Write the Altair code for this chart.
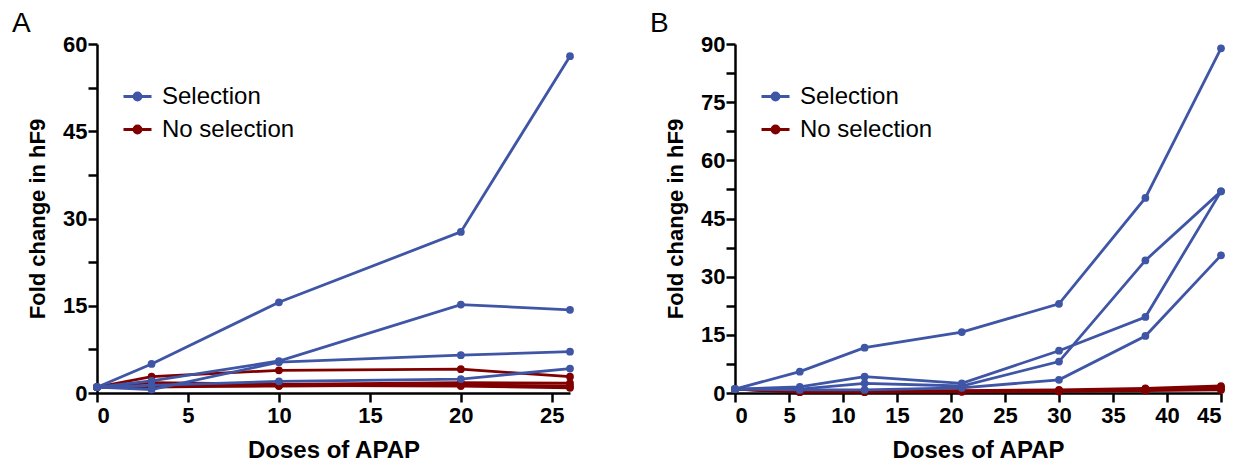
import altair as alt
import pandas as pd

BLUE = "#3F55A6"
RED = "#800000"
FONT = "Liberation Sans"

# ---------- Panel A data ----------
a_doses = [0, 3, 10, 20, 26]
a_sel_1 = [1.0, 5.0, 15.6, 27.7, 57.9]
a_sel_2 = [1.0, 2.1, 5.5, 15.2, 14.3]
a_sel_3 = [1.0, 0.6, 5.3, 6.5, 7.1]
a_sel_4 = [1.0, 1.3, 2.0, 2.4, 4.2]
a_nosel_1 = [1.0, 2.8, 3.9, 4.1, 2.8]
a_nosel_2 = [1.0, 1.8, 1.5, 1.8, 1.7]
a_nosel_3 = [1.0, 1.2, 1.2, 1.4, 1.2]
a_nosel_4 = [1.0, 1.0, 1.3, 1.2, 0.9]

# ---------- Panel B data ----------
b_doses = [0, 6, 12, 21, 30, 38, 45]
b_sel_1 = [1.0, 5.5, 11.7, 15.7, 23.0, 50.3, 88.9]
b_sel_2 = [1.0, 1.0, 2.5, 1.8, 8.1, 34.2, 52.0]
b_sel_3 = [1.0, 1.6, 4.2, 2.5, 10.9, 19.6, 52.0]
b_sel_4 = [1.0, 0.8, 0.8, 1.3, 3.4, 14.7, 35.5]
b_nosel_1 = [1.0, 0.4, 0.5, 0.6, 0.8, 1.2, 1.8]
b_nosel_2 = [1.0, 0.3, 0.4, 0.4, 0.6, 0.9, 1.4]
b_nosel_3 = [1.0, 0.5, 0.6, 0.5, 0.5, 0.8, 1.1]
b_nosel_4 = [1.0, 0.2, 0.2, 0.3, 0.4, 0.6, 0.8]

groups = ["Selection", "No selection"]
a_x_ticks = [0, 5, 10, 15, 20, 25]
b_x_ticks = [0, 5, 10, 15, 20, 25, 30, 35, 40, 45]
a_y_ticks = [0, 7.5, 15, 22.5, 30, 37.5, 45, 52.5, 60]
b_y_ticks = [0, 7.5, 15, 22.5, 30, 37.5, 45, 52.5, 60, 67.5, 75, 82.5, 90]


def build_df(doses, sel, nosel):
    rows = []
    for i, s in enumerate(sel):
        for d, v in zip(doses, s):
            rows.append({"dose": d, "fold": v, "group": "Selection", "series": f"s{i}"})
    for i, s in enumerate(nosel):
        for d, v in zip(doses, s):
            rows.append({"dose": d, "fold": v, "group": "No selection", "series": f"n{i}"})
    return pd.DataFrame(rows)


SYMBOL = "M-1,0H1M-0.25,0A0.25,0.25,0,1,1,0.25,0A0.25,0.25,0,1,1,-0.25,0Z"


def panel(df, xmax, xticks, ymax, yticks, width, letter):
    color = alt.Color(
        "group:N",
        scale=alt.Scale(domain=groups, range=[BLUE, RED]),
        legend=alt.Legend(
            title=None,
            orient="none",
            legendX=25,
            legendY=37,
            symbolType=SYMBOL,
            symbolSize=784,
            symbolStrokeWidth=2.8,
            labelFont=FONT,
            labelFontSize=24,
            labelColor="black",
            labelOffset=9,
            rowPadding=5,
        ),
    )
    x = alt.X(
        "dose:Q",
        scale=alt.Scale(domain=[0, xmax], nice=False, zero=True),
        axis=alt.Axis(values=xticks, title="Doses of APAP", format="d"),
    )
    y = alt.Y(
        "fold:Q",
        scale=alt.Scale(domain=[0, ymax], nice=False),
        axis=alt.Axis(
            values=yticks,
            title="Fold change in hF9",
            labelExpr="datum.value % 15 == 0 ? datum.label : ''",
        ),
    )
    base = alt.Chart(df)
    red = base.transform_filter(alt.datum.group == "No selection")
    blue = base.transform_filter(alt.datum.group == "Selection")
    layers = []
    for src in (red, blue):
        layers.append(
            src.mark_line(strokeWidth=2.8).encode(x=x, y=y, color=color, detail="series:N")
        )
        layers.append(
            src.mark_point(filled=True, size=60, opacity=1).encode(
                x=x, y=y, color=color, detail="series:N"
            )
        )
    return alt.layer(*layers).properties(
        width=width,
        height=349,
        title=alt.TitleParams(
            letter,
            anchor="start",
            frame="group",
            dx=-85,
            font=FONT,
            fontSize=28,
            fontWeight="normal",
            color="black",
            offset=-5,
        ),
    )


chart_a = panel(build_df(a_doses, [a_sel_1, a_sel_2, a_sel_3, a_sel_4],
                         [a_nosel_1, a_nosel_2, a_nosel_3, a_nosel_4]),
                26, a_x_ticks, 60, a_y_ticks, 473, "A")
chart_b = panel(build_df(b_doses, [b_sel_1, b_sel_2, b_sel_3, b_sel_4],
                         [b_nosel_1, b_nosel_2, b_nosel_3, b_nosel_4]),
                45, b_x_ticks, 90, b_y_ticks, 486, "B")

chart = (
    alt.hconcat(chart_a, chart_b, spacing=74)
    .resolve_scale(color="independent")
    .configure(padding={"left": 4, "top": 2, "right": 5, "bottom": 0}, font=FONT)
    .configure_view(stroke=None)
    .configure_axis(
        grid=False,
        domainColor="black",
        domainWidth=2.5,
        tickColor="black",
        tickWidth=2.5,
        tickSize=9,
        labelFont=FONT,
        labelFontSize=22,
        labelFontWeight="bold",
        labelColor="black",
        titleFont=FONT,
        titleFontWeight="bold",
        titleColor="black",
    )
    .configure_axisX(labelPadding=3, titlePadding=12, titleFontSize=24)
    .configure_axisY(labelPadding=1, titlePadding=13, titleFontSize=22)
)

chart.save("out.html", embed_options={"renderer": "svg", "actions": False})
